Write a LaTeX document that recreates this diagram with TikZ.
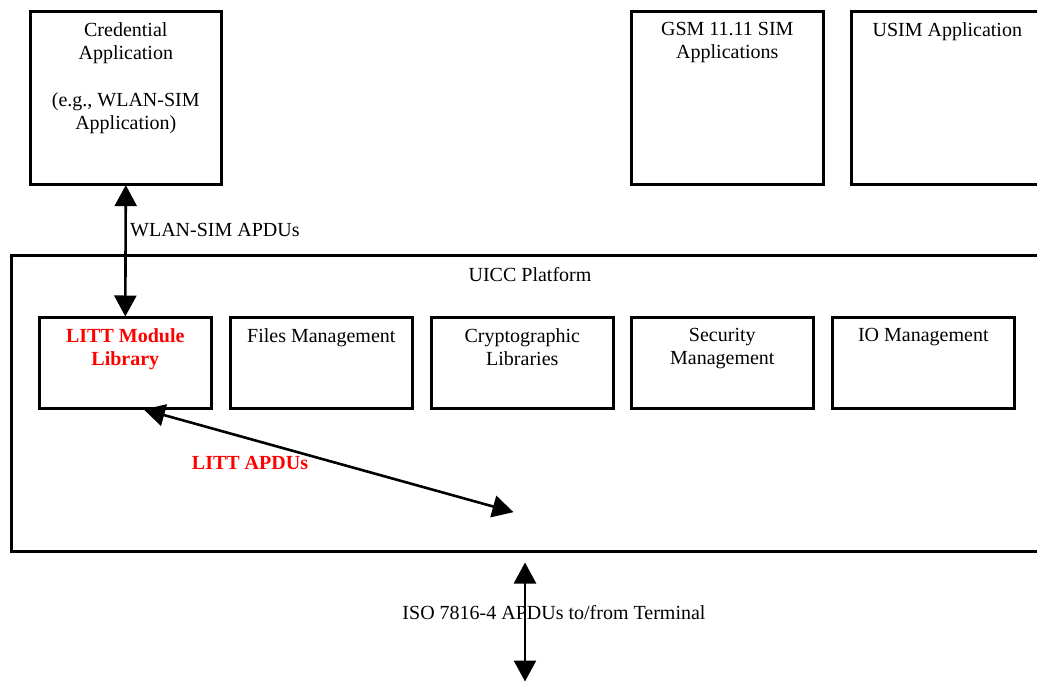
\documentclass[tikz,border=0pt]{standalone}
\usepackage{fontspec}
\setmainfont{Liberation Serif}
\usetikzlibrary{arrows.meta,calc}
\tikzset{
  box/.style={draw, line width=2.6pt, inner sep=0pt, anchor=north west},
  boxtext/.style={inner sep=0pt, anchor=north, align=center, font=\fontsize{20}{23}\selectfont},
  conn/.style={line width=2.6pt, {Triangle[width=22pt,length=21pt]}-{Triangle[width=22pt,length=21pt]}, shorten <=-0.5pt, shorten >=-0.5pt},
  lbl/.style={inner sep=0pt, font=\fontsize{20}{23}\selectfont},
  redlbl/.style={lbl, text=red, font=\fontsize{20}{23}\selectfont\bfseries}
}
\begin{document}
\begin{tikzpicture}[x=1pt,y=-1pt]
\useasboundingbox (0,0) rectangle (1037,681);
\clip (0,0) rectangle (1037,681);
% top application boxes
\node[box, minimum width=191pt, minimum height=173pt] (cred) at (29,10) {};
\node[box, minimum width=192pt, minimum height=173pt] (gsm) at (630,10) {};
\node[box, minimum width=192pt, minimum height=173pt] (usim) at (850,10) {};
\node[boxtext] (credt) at ([yshift=-12pt]cred.north) {Credential\\Application\\[24pt](e.g., WLAN-SIM\\Application)};
\node[boxtext] (gsmt) at ([yshift=-12pt]gsm.north) {GSM 11.11 SIM\\Applications};
\node[boxtext] (usimt) at ([yshift=-12pt]usim.north) {USIM Application};
% platform
\node[box, minimum width=1040pt, minimum height=296pt] (uicc) at (10,254) {};
\node[boxtext] (uicct) at (530,267) {UICC Platform};
% inner boxes
\node[box, minimum width=172pt, minimum height=91pt] (litt) at (38,316) {};
\node[box, minimum width=182pt, minimum height=91pt] (files) at (229,316) {};
\node[box, minimum width=182pt, minimum height=91pt] (crypto) at (430,316) {};
\node[box, minimum width=182pt, minimum height=91pt] (sec) at (630,316) {};
\node[box, minimum width=182pt, minimum height=91pt] (io) at (831,316) {};
\node[boxtext, text=red, font=\fontsize{20}{23}\selectfont\bfseries] (littt) at ([yshift=-12pt]litt.north) {LITT Module\\Library};
\node[boxtext] (filest) at ([yshift=-12pt]files.north) {Files Management};
\node[boxtext] (cryptot) at ([yshift=-12pt]crypto.north) {Cryptographic\\Libraries};
\node[boxtext] (sect) at ([yshift=-12pt]sec.north) {Security\\Management};
\node[boxtext] (iot) at ([yshift=-12pt]io.north) {IO Management};
% connectors
\draw[conn] (cred.south) -- (litt.north);
\node[lbl, anchor=west] (wlan) at (130,230) {WLAN-SIM APDUs};
\coordinate (lend) at (513,512);
\draw[conn] ([xshift=19pt]litt.south) -- (lend);
\node[redlbl] (littapdu) at (250,463) {LITT APDUs};
\node[lbl] (iso) at (554,613) {ISO 7816-4 APDUs to/from Terminal};
\coordinate (tA) at (525,563);
\coordinate (tB) at (525,681);
\draw[conn] (tA) -- (tB);
\end{tikzpicture}
\end{document}
